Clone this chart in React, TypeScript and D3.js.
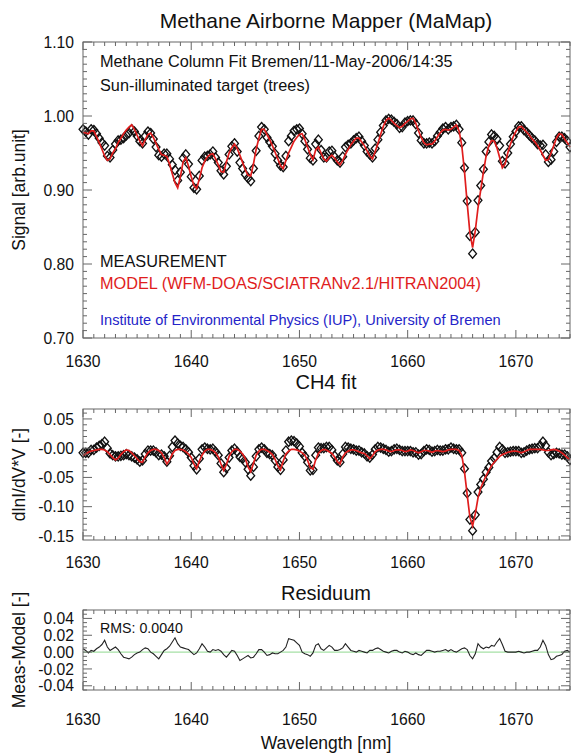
import React from "react";
import * as d3 from "d3";

// wavelength grid of the spectra (nm)
const wlStart = 1630;
const wlStep = 0.25;

// top panel: modelled signal (arb. unit), one row per nm
const signalModel = [
  0.978, 0.977, 0.976, 0.980,
  0.980, 0.972, 0.964, 0.955,
  0.946, 0.940, 0.942, 0.950,
  0.956, 0.964, 0.970, 0.976,
  0.981, 0.985, 0.988, 0.982,
  0.974, 0.966, 0.960, 0.968,
  0.975, 0.977, 0.971, 0.963,
  0.955, 0.948, 0.947, 0.945,
  0.935, 0.922, 0.910, 0.903,
  0.918, 0.938, 0.944, 0.932,
  0.918, 0.906, 0.902, 0.915,
  0.930, 0.939, 0.945, 0.948,
  0.949, 0.942, 0.934, 0.925,
  0.924, 0.938, 0.950, 0.957,
  0.962, 0.956, 0.947, 0.937,
  0.927, 0.920, 0.919, 0.935,
  0.955, 0.970, 0.982, 0.982,
  0.975, 0.968, 0.960, 0.951,
  0.942, 0.933, 0.929, 0.940,
  0.950, 0.958, 0.966, 0.971,
  0.975, 0.976, 0.968, 0.958,
  0.948, 0.941, 0.954, 0.958,
  0.950, 0.942, 0.939, 0.944,
  0.947, 0.943, 0.938, 0.934,
  0.940, 0.948, 0.955, 0.961,
  0.966, 0.970, 0.970, 0.965,
  0.960, 0.953, 0.946, 0.942,
  0.952, 0.963, 0.975, 0.986,
  0.994, 0.997, 0.994, 0.990,
  0.987, 0.984, 0.986, 0.990,
  0.993, 0.996, 0.997, 0.990,
  0.980, 0.971, 0.964, 0.961,
  0.962, 0.962, 0.966, 0.972,
  0.977, 0.981, 0.982, 0.981,
  0.982, 0.985, 0.988, 0.980,
  0.960, 0.925, 0.882, 0.842,
  0.822, 0.845, 0.876, 0.900,
  0.924, 0.946, 0.960, 0.967,
  0.966, 0.957, 0.944, 0.930,
  0.935, 0.950, 0.962, 0.972,
  0.979, 0.985, 0.986, 0.982,
  0.978, 0.974, 0.969, 0.965,
  0.960, 0.954, 0.947, 0.940,
  0.941, 0.950, 0.960, 0.970,
  0.976, 0.975, 0.969, 0.964,
  0.958,
];

// middle panel: modelled CH4 differential signal
const ch4Model = [
  -0.012, -0.010, -0.007, -0.005,
  -0.004, -0.003, -0.002, -0.002,
  -0.003, -0.006, -0.011, -0.016,
  -0.020, -0.017, -0.011, -0.006,
  -0.003, -0.004, -0.008, -0.013,
  -0.018, -0.023, -0.024, -0.015,
  -0.008, -0.004, -0.002, -0.002,
  -0.004, -0.008, -0.016, -0.027,
  -0.020, -0.010, -0.004, -0.002,
  -0.002, -0.003, -0.006, -0.010,
  -0.016, -0.027, -0.035, -0.022,
  -0.012, -0.005, -0.002, -0.002,
  -0.004, -0.008, -0.015, -0.027,
  -0.038, -0.028, -0.014, -0.006,
  -0.002, -0.002, -0.005, -0.010,
  -0.018, -0.032, -0.040, -0.026,
  -0.012, -0.005, -0.002, -0.002,
  -0.004, -0.007, -0.011, -0.019,
  -0.030, -0.037, -0.022, -0.010,
  -0.005, -0.002, -0.002, -0.003,
  -0.005, -0.008, -0.012, -0.021,
  -0.033, -0.036, -0.020, -0.009,
  -0.004, -0.002, -0.003, -0.006,
  -0.009, -0.015, -0.023, -0.027,
  -0.015, -0.008, -0.005, -0.003,
  -0.003, -0.004, -0.006, -0.008,
  -0.009, -0.013, -0.018, -0.013,
  -0.006, -0.003, -0.002, -0.002,
  -0.003, -0.005, -0.006, -0.004,
  -0.003, -0.003, -0.004, -0.006,
  -0.005, -0.003, -0.004, -0.006,
  -0.008, -0.006, -0.004, -0.004,
  -0.005, -0.007, -0.005, -0.004,
  -0.005, -0.006, -0.005, -0.003,
  -0.002, -0.002, -0.002, -0.004,
  -0.012, -0.040, -0.080, -0.118,
  -0.133, -0.112, -0.085, -0.068,
  -0.057, -0.047, -0.038, -0.030,
  -0.024, -0.019, -0.014, -0.011,
  -0.009, -0.007, -0.006, -0.005,
  -0.005, -0.006, -0.008, -0.006,
  -0.004, -0.002, -0.002, -0.002,
  -0.002, -0.002, -0.003, -0.004,
  -0.004, -0.003, -0.002, -0.003,
  -0.005, -0.008, -0.012, -0.016,
  -0.020,
];

// bottom panel: residual Meas-Model
const residual = [
  0.004, 0.002, -0.001, 0.002,
  0.001, 0.004, 0.006, 0.009,
  0.014, 0.006, 0.002, 0.004,
  0.006, 0.003, -0.002, -0.006,
  -0.007, -0.008, -0.006, -0.003,
  -0.001, 0.000, 0.003, 0.005,
  0.004, 0.000, -0.002, -0.005,
  -0.008, -0.003, 0.002, 0.004,
  0.007, 0.012, 0.017, 0.010,
  0.006, 0.005, 0.004, 0.003,
  0.000, -0.003, -0.001, 0.004,
  0.010, 0.006, 0.001, 0.000,
  0.003, 0.002, 0.003, 0.001,
  -0.003, -0.006, -0.002, 0.002,
  0.001, -0.004, -0.010, -0.008,
  -0.006, -0.004, -0.007, -0.006,
  -0.002, 0.003, 0.003, 0.000,
  -0.004, -0.003, -0.001, -0.002,
  -0.002, 0.000, 0.002, 0.006,
  0.016, 0.015, 0.014, 0.011,
  0.008, 0.000, -0.002, -0.003,
  -0.005, -0.001, 0.008, 0.010,
  0.004, 0.002, 0.005, 0.008,
  0.006, 0.002, 0.002, 0.003,
  0.005, 0.010, 0.006, 0.002,
  0.001, 0.000, 0.002, 0.001,
  0.000, -0.001, 0.002, 0.002,
  0.004, 0.005, 0.003, 0.001,
  0.000, -0.001, 0.001, 0.002,
  0.002, 0.000, -0.001, 0.001,
  0.000, -0.002, -0.003, -0.001,
  -0.003, -0.004, -0.001, 0.002,
  0.002, 0.001, 0.000, 0.001,
  0.001, 0.002, 0.003, 0.001,
  0.003, 0.001, 0.000, 0.002,
  0.004, 0.005, 0.003, -0.004,
  -0.008, -0.002, 0.010, 0.006,
  0.004, 0.006, 0.005, 0.008,
  0.007, 0.012, 0.016, 0.009,
  0.001, 0.000, 0.000, 0.000,
  0.000, 0.001, 0.000, -0.001,
  0.000, 0.000, 0.001, 0.002,
  0.002, 0.006, 0.014, 0.008,
  -0.003, -0.009, -0.008, -0.005,
  -0.004, -0.003, 0.001, 0.002,
  0.000,
];

const xTicks = [1630, 1640, 1650, 1660, 1670];
const signalTicks = [0.7, 0.8, 0.9, 1.0, 1.1];
const signalLabels = ["0.70", "0.80", "0.90", "1.00", "1.10"];
const ch4Ticks = [-0.15, -0.1, -0.05, 0, 0.05];
const ch4Labels = ["-0.15", "-0.10", "-0.05", "-0.00", "0.05"];
const resTicks = [-0.04, -0.02, 0, 0.02, 0.04];
const resLabels = ["-0.04", "-0.02", "0.00", "0.02", "0.04"];

const FONT = '"Liberation Sans", Arial, Helvetica, sans-serif';
const AXIS = "#666";
const RED = "#e01d1d";
const L = 83, R = 570;

const wl = signalModel.map((_, i) => wlStart + i * wlStep);
// measured spectra = model + residual (what the residual panel shows)
const signalMeas = signalModel.map((v, i) => v + residual[i]);
const ch4Meas = ch4Model.map((v, i) => v + residual[i]);

const x = d3.scaleLinear().domain([1630, 1675]).range([L, R]);
const ySig = d3.scaleLinear().domain([0.7, 1.1]).range([338, 42]);
const yCh4 = d3.scaleLinear().domain([-0.157, 0.067]).range([540, 409]);
const yRes = d3.scaleLinear().domain([-0.045, 0.05]).range([690, 610]);

const xMinor = d3.range(1630, 1675.01, 1);

function Frame({ y, ticks, labels, minorStep, xLabelY }) {
  const [yb, yt] = y.range();
  const [d0, d1] = y.domain();
  const minor = d3.range(Math.ceil(d0 / minorStep - 1e-6), Math.floor(d1 / minorStep + 1e-6) + 1).map(k => k * minorStep);
  return (
    <g>
      <rect x={L} y={yt} width={R - L} height={yb - yt} fill="none" stroke={AXIS} strokeWidth={1} />
      {xMinor.map(v => {
        const len = xTicks.includes(v) ? 8 : 4;
        return (
          <g key={"x" + v} stroke={AXIS}>
            <line x1={x(v)} x2={x(v)} y1={yb} y2={yb - len} />
            <line x1={x(v)} x2={x(v)} y1={yt} y2={yt + len} />
          </g>
        );
      })}
      {minor.map(v => {
        const major = ticks.some(t => Math.abs(t - v) < 1e-6);
        const len = major ? 9 : 4;
        return (
          <g key={"y" + v} stroke={AXIS}>
            <line x1={L} x2={L + len} y1={y(v)} y2={y(v)} />
            <line x1={R} x2={R - len} y1={y(v)} y2={y(v)} />
          </g>
        );
      })}
      {ticks.map((t, i) => (
        <text key={"yl" + t} x={74} y={y(t)} dy="0.36em" textAnchor="end" fontSize={15.7} fill="#111">
          {labels[i]}
        </text>
      ))}
      {xTicks.map(t => (
        <text key={"xl" + t} x={x(t)} y={xLabelY} textAnchor="middle" fontSize={15.7} fill="#111">
          {t}
        </text>
      ))}
    </g>
  );
}

const diamond = (cx: number, cy: number) =>
  `M${cx},${cy - 4.6}L${cx + 3.9},${cy}L${cx},${cy + 4.6}L${cx - 3.9},${cy}Z`;

function Spectrum({ y, meas, model }) {
  const line = d3.line<number>().x((_, i) => x(wl[i])).y(d => y(d));
  return (
    <g>
      {meas.map((v, i) => (
        <path key={i} d={diamond(x(wl[i]), y(v))} fill="none" stroke="#111" strokeWidth={1.35} />
      ))}
      <path d={line(model) || ""} fill="none" stroke={RED} strokeWidth={1.7} />
    </g>
  );
}

export default function App() {
  const resLine = d3.line<number>().x((_, i) => x(wl[i])).y(d => yRes(d));
  return (
    <svg width={571} height={753} style={{ position: "absolute", left: 0, top: 0, background: "#fff" }} fontFamily={FONT}>
      <text x={326} y={28} textAnchor="middle" fontSize={21} fill="#111">Methane Airborne Mapper (MaMap)</text>

      {/* top panel */}
      <Spectrum y={ySig} meas={signalMeas} model={signalModel} />
      <Frame y={ySig} ticks={signalTicks} labels={signalLabels} minorStep={0.01} xLabelY={367} />
      <text x={100} y={67} fontSize={16.3} fill="#111">Methane Column Fit Bremen/11-May-2006/14:35</text>
      <text x={100} y={91} fontSize={16.3} fill="#111">Sun-illuminated target (trees)</text>
      <text x={100} y={267} fontSize={16.3} fill="#111">MEASUREMENT</text>
      <text x={100} y={289} fontSize={16.3} fill={RED}>MODEL (WFM-DOAS/SCIATRANv2.1/HITRAN2004)</text>
      <text x={100} y={325} fontSize={14.6} fill="#2424c8">Institute of Environmental Physics (IUP), University of Bremen</text>
      <text transform={`translate(25,${(ySig.range()[0] + ySig.range()[1]) / 2}) rotate(-90)`} textAnchor="middle" fontSize={17.5} fill="#111">
        Signal [arb.unit]
      </text>

      {/* middle panel */}
      <text x={326} y={389} textAnchor="middle" fontSize={20} fill="#111">CH4 fit</text>
      <Spectrum y={yCh4} meas={ch4Meas} model={ch4Model} />
      <Frame y={yCh4} ticks={ch4Ticks} labels={ch4Labels} minorStep={0.01} xLabelY={568} />
      <text transform={`translate(25,${(yCh4.range()[0] + yCh4.range()[1]) / 2}) rotate(-90)`} textAnchor="middle" fontSize={17.5} fill="#111">
        dlnI/dV*V [-]
      </text>

      {/* bottom panel */}
      <text x={326} y={600} textAnchor="middle" fontSize={20} fill="#111">Residuum</text>
      <line x1={L} x2={R} y1={yRes(0)} y2={yRes(0)} stroke="#8fd88f" strokeWidth={1} />
      <path d={resLine(residual) || ""} fill="none" stroke="#222" strokeWidth={1.1} />
      <Frame y={yRes} ticks={resTicks} labels={resLabels} minorStep={0.005} xLabelY={725} />
      <text x={100} y={633} fontSize={14.2} fill="#111">RMS: 0.0040</text>
      <text transform={`translate(25,${(yRes.range()[0] + yRes.range()[1]) / 2}) rotate(-90)`} textAnchor="middle" fontSize={17.5} fill="#111">
        Meas-Model [-]
      </text>
      <text x={326} y={749} textAnchor="middle" fontSize={17.5} fill="#111">Wavelength [nm]</text>
    </svg>
  );
}
